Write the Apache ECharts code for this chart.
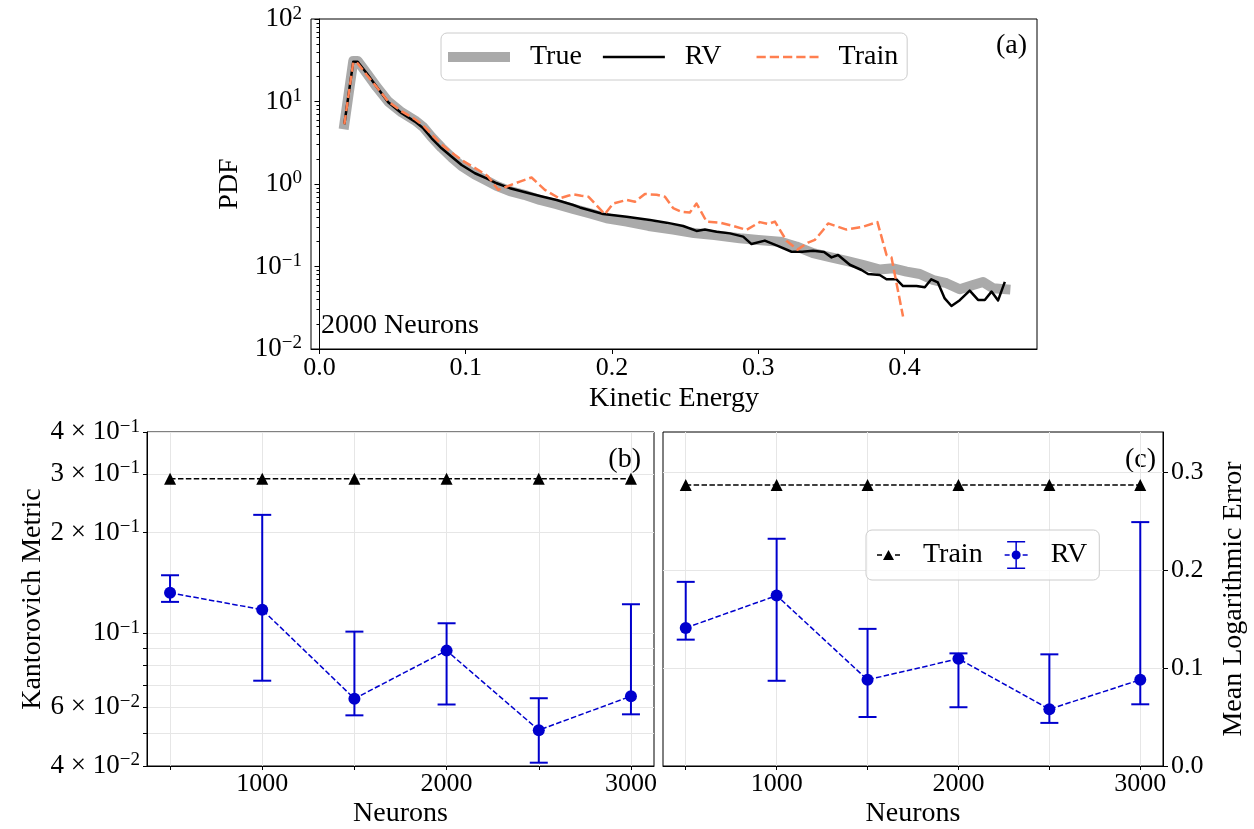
<!DOCTYPE html>
<html><head><meta charset="utf-8">
<script src="https://cdn.jsdelivr.net/npm/echarts@6/dist/echarts.min.js"></script>
<style>html,body{margin:0;padding:0;background:#fff}#c{width:1254px;height:829px}</style>
</head><body><div id="c"></div>
<script>
// ---------- Panel (a): PDF of kinetic energy ----------
const energyTrue = [0.0170,0.0231,0.0261,0.0323,0.0391,0.0470,0.0562,0.0653,0.0710,0.0767,0.0835,0.0904,0.0972,0.1063,0.1143,0.1211,0.1302,0.1400,0.1507,0.1621,0.1735,0.1850,0.1963,0.2100,0.2250,0.2418,0.2560,0.2700,0.2874,0.3000,0.3148,0.3260,0.3375,0.3490,0.3603,0.3720,0.3831,0.3922,0.4014,0.4105,0.4196,0.4287,0.4378,0.4469,0.4537,0.4606,0.4690];
const pdfTrue = [5.3,31,31,22,15,10,7.4,5.9,4.9,3.7,2.75,2.1,1.65,1.3,1.1,0.95,0.82,0.74,0.64,0.57,0.5,0.44,0.384,0.35,0.31,0.28,0.255,0.24,0.22,0.21,0.20,0.175,0.145,0.13,0.117,0.104,0.092,0.095,0.0865,0.081,0.0686,0.0627,0.053,0.0597,0.065,0.0544,0.053];

const energyRV = [0.0170,0.0231,0.0261,0.0323,0.0391,0.0470,0.0562,0.0653,0.0710,0.0767,0.0835,0.0904,0.0972,0.1063,0.1143,0.1211,0.1302,0.1400,0.1507,0.1621,0.1735,0.1780,0.1940,0.2100,0.2260,0.2373,0.2487,0.2578,0.2635,0.2715,0.2806,0.2897,0.2954,0.3045,0.3125,0.3228,0.3300,0.3375,0.3450,0.3501,0.3546,0.3626,0.3706,0.3751,0.3831,0.3877,0.3945,0.3990,0.4082,0.4139,0.4183,0.4228,0.4275,0.4321,0.4378,0.4446,0.4503,0.4549,0.4595,0.4640,0.4686];
const pdfRV = [5.3,30.4,30.4,22,15.1,9.8,7.2,5.7,4.73,3.58,2.71,2.14,1.70,1.35,1.17,1.02,0.89,0.80,0.716,0.64,0.556,0.52,0.433,0.40,0.366,0.34,0.31,0.27,0.28,0.264,0.252,0.23,0.187,0.206,0.18,0.151,0.151,0.155,0.15,0.129,0.138,0.105,0.0907,0.081,0.079,0.07,0.07,0.058,0.058,0.056,0.07,0.064,0.041,0.0332,0.039,0.051,0.0393,0.0393,0.0496,0.0388,0.065];

const energyTrain = [0.0170,0.0231,0.0261,0.0323,0.0391,0.0470,0.0562,0.0653,0.0710,0.0767,0.0835,0.0904,0.0972,0.1086,0.1150,0.1222,0.1370,0.1450,0.1541,0.1640,0.1700,0.1735,0.1790,0.1840,0.1951,0.2008,0.2100,0.2157,0.2225,0.2305,0.2362,0.2418,0.2476,0.2532,0.2578,0.2647,0.2738,0.2828,0.2920,0.3011,0.3068,0.3114,0.3193,0.3268,0.3341,0.3387,0.3444,0.3478,0.3603,0.3717,0.3815,0.3877,0.3911,0.3990];
const pdfTrain = [5.3,30,29,21,15,10,7.6,6.1,5.1,4.0,3.0,2.4,1.95,1.48,1.25,0.85,1.07,1.2,0.85,0.67,0.72,0.75,0.72,0.70,0.43,0.58,0.64,0.61,0.757,0.74,0.70,0.51,0.46,0.45,0.58,0.35,0.34,0.31,0.278,0.345,0.327,0.35,0.205,0.16,0.195,0.21,0.277,0.333,0.28,0.304,0.345,0.138,0.129,0.0247];

const energyTicks = [0, 0.1, 0.2, 0.3, 0.4];
const pdfTicks = [0.01, 0.1, 1, 10, 100];
const pdfMinorTicks = [0.02,0.03,0.04,0.05,0.06,0.07,0.08,0.09,0.2,0.3,0.4,0.5,0.6,0.7,0.8,0.9,2,3,4,5,6,7,8,9,20,30,40,50,60,70,80,90];

// ---------- Panels (b) and (c) ----------
const neurons = [500, 1000, 1500, 2000, 2500, 3000];
const neuronTicks = [500, 1000, 1500, 2000, 2500, 3000];
const neuronLabels = [1000, 2000, 3000];

const kmTrain = [0.29, 0.29, 0.29, 0.29, 0.29, 0.29];
const kmRV = [0.132, 0.1175, 0.0636, 0.0886, 0.0512, 0.0647];
const kmRVLow = [0.124, 0.072, 0.0567, 0.0611, 0.0409, 0.0571];
const kmRVHigh = [0.149, 0.226, 0.101, 0.107, 0.0638, 0.122];
const kmTicks = [0.04, 0.05, 0.06, 0.07, 0.08, 0.09, 0.1, 0.2, 0.3, 0.4];
const kmLabels = [0.04, 0.06, 0.1, 0.2, 0.3, 0.4];

const mleTrain = [0.287, 0.287, 0.287, 0.287, 0.287, 0.287];
const mleRV = [0.141, 0.174, 0.088, 0.1095, 0.058, 0.088];
const mleRVLow = [0.129, 0.087, 0.050, 0.060, 0.044, 0.063];
const mleRVHigh = [0.188, 0.232, 0.140, 0.115, 0.114, 0.249];
const mleTicks = [0, 0.1, 0.2, 0.3];

// ---------- helpers ----------
const FONT = '"Liberation Serif", "DejaVu Serif", serif';
const FS = 26;   // tick labels
const FN = 28;   // titles, legend, annotations
const BLUE = '#0000cd';
const GRIDC = '#e6e6e6';
const sup = e => (e < 0 ? '\u2212' : '') + Math.abs(e);
function sciLabel(v) {
  const e = Math.floor(Math.log10(v) + 1e-9);
  const m = Math.round(v / Math.pow(10, e));
  return (m === 1 ? '{b|10}' : '{b|' + m + ' \u00d7 10}') + '{s|' + sup(e) + '}';
}
const richSup = {
  b: { fontFamily: FONT, fontSize: 27, color: '#000', lineHeight: 30 },
  s: { fontFamily: FONT, fontSize: 19, color: '#000', lineHeight: 16, verticalAlign: 'top' }
};
const pairs = (xs, ys) => xs.map((x, i) => [x, ys[i]]);
const rows3 = (xs, a, b) => xs.map((x, i) => [x, a[i], b[i]]);

function errRender(params, api) {
  const x = api.value(0), lo = api.value(1), hi = api.value(2);
  const pLo = api.coord([x, lo]), pHi = api.coord([x, hi]);
  const cw = 9;
  const st = () => ({ stroke: BLUE, lineWidth: 2, fill: null });
  return { type: 'group', children: [
    { type: 'line', shape: { x1: pLo[0], y1: pLo[1], x2: pHi[0], y2: pHi[1] }, style: st() },
    { type: 'line', shape: { x1: pLo[0] - cw, y1: pLo[1], x2: pLo[0] + cw, y2: pLo[1] }, style: st() },
    { type: 'line', shape: { x1: pHi[0] - cw, y1: pHi[1], x2: pHi[0] + cw, y2: pHi[1] }, style: st() }
  ]};
}

const axisLineBlack = { show: true, lineStyle: { color: '#000', width: 1 } };
const tickStyle = (vals, len) => ({ show: true, customValues: vals, length: len, lineStyle: { color: '#000', width: 1 } });
const nameStyle = { fontFamily: FONT, fontSize: FN, color: '#000' };
const labelBase = { fontFamily: FONT, fontSize: FS, color: '#000' };

// legend icons (a): 62 x 14 boxes
const cornerA = 'M0 0h0.01v0.01h-0.01z M61.99 13.99h0.01v0.01h-0.01z ';
const iconTrue = 'path://' + cornerA + 'M0 2h62v10h-62z';
const iconRV = 'path://' + cornerA + 'M0 5.75h62v2.5h-62z';
const iconTrain = 'path://' + cornerA + 'M0 5.75h9.25v2.5h-9.25z M13.25 5.75h9.25v2.5h-9.25z M26.5 5.75h9.25v2.5h-9.25z M39.75 5.75h9.25v2.5h-9.25z M53 5.75h9v2.5h-9z';
// legend icons (c): 23 x 30 boxes
const cornerC = 'M0 0h0.01v0.01h-0.01z M22.99 29.99h0.01v0.01h-0.01z ';
const iconTrainC = 'path://' + cornerC + 'M0 14.25h5v1.5h-5z M18 14.25h5v1.5h-5z M11.5 10 L17 20 L6 20 z';
const iconRVC = 'path://' + cornerC + 'M10.75 1h1.5v28h-1.5z M2.5 1h18v1.5h-18z M2.5 27.5h18v1.5h-18z M0 14.25h5v1.5h-5z M18 14.25h5v1.5h-5z M7 15 a4.5 4.5 0 1 1 9 0 a4.5 4.5 0 1 1 -9 0 z';

const option = {
  animation: false,
  backgroundColor: '#ffffff',
  textStyle: { fontFamily: FONT },
  grid: [
    { left: 311, top: 19, width: 726, height: 330, show: true, borderColor: '#000', borderWidth: 1 },
    { left: 147, top: 432, width: 507, height: 335, show: true, borderColor: '#000', borderWidth: 1 },
    { left: 663, top: 432, width: 500, height: 335, show: true, borderColor: '#000', borderWidth: 1 },
    { left: 311, top: 19, width: 726, height: 330, show: false }   // overlay grid for the PDF minor ticks
  ],
  xAxis: [
    { gridIndex: 0, type: 'value', min: -0.0058, max: 0.4906,
      axisLine: axisLineBlack, axisTick: tickStyle(energyTicks, 5),
      axisLabel: Object.assign({ customValues: energyTicks, margin: 6, formatter: v => v.toFixed(1) }, labelBase),
      splitLine: { show: false },
      name: 'Kinetic Energy', nameLocation: 'middle', nameGap: 36, nameTextStyle: nameStyle },
    { gridIndex: 1, type: 'value', min: 375, max: 3125,
      axisLine: axisLineBlack, axisTick: tickStyle(neuronTicks, 4),
      axisLabel: Object.assign({ customValues: neuronLabels, margin: 5, formatter: v => String(v) }, labelBase),
      splitLine: { show: true, lineStyle: { color: GRIDC, width: 1 } },
      name: 'Neurons', nameLocation: 'middle', nameGap: 34, nameTextStyle: nameStyle },
    { gridIndex: 2, type: 'value', min: 375, max: 3125,
      axisLine: axisLineBlack, axisTick: tickStyle(neuronTicks, 4),
      axisLabel: Object.assign({ customValues: neuronLabels, margin: 5, formatter: v => String(v) }, labelBase),
      splitLine: { show: true, lineStyle: { color: GRIDC, width: 1 } },
      name: 'Neurons', nameLocation: 'middle', nameGap: 34, nameTextStyle: nameStyle },
    { gridIndex: 3, type: 'value', min: -0.0058, max: 0.4906, show: false }
  ],
  yAxis: [
    { gridIndex: 0, type: 'log', logBase: 10, min: 0.009995, max: 100.05, position: 'left',
      axisLine: axisLineBlack, axisTick: tickStyle(pdfTicks, 5),
      axisLabel: { customValues: pdfTicks, margin: 9, formatter: sciLabel, rich: richSup },
      splitLine: { show: false },
      name: 'PDF', nameLocation: 'middle', nameGap: 62, nameRotate: 90, nameTextStyle: nameStyle },
    { gridIndex: 3, type: 'log', logBase: 10, min: 0.009995, max: 100.05, position: 'left',
      axisLine: { show: false }, axisTick: tickStyle(pdfMinorTicks, 3),
      axisLabel: { show: false }, splitLine: { show: false } },
    { gridIndex: 1, type: 'log', logBase: 10, min: 0.03998, max: 0.4002,
      axisLine: axisLineBlack, axisTick: tickStyle(kmTicks, 4),
      axisLabel: { customValues: kmLabels, margin: 7, formatter: sciLabel, rich: richSup },
      splitLine: { show: true, lineStyle: { color: GRIDC, width: 1 } },
      name: 'Kantorovich Metric', nameLocation: 'middle', nameGap: 100, nameRotate: 90, nameTextStyle: nameStyle },
    { gridIndex: 2, type: 'value', position: 'right', min: 0, max: 0.341,
      axisLine: axisLineBlack, axisTick: tickStyle(mleTicks, 5),
      axisLabel: Object.assign({ customValues: mleTicks, margin: 8, formatter: v => v.toFixed(1) }, labelBase),
      splitLine: { show: true, lineStyle: { color: GRIDC, width: 1 } },
      name: 'Mean Logarithmic Error', nameLocation: 'middle', nameGap: 57, nameRotate: 90, nameTextStyle: nameStyle }
  ],
  legend: [
    { left: 441, top: 33, orient: 'horizontal', selectedMode: false,
      data: [
        { name: 'True', icon: iconTrue, itemStyle: { color: '#aaaaaa', borderWidth: 0 } },
        { name: 'RV', icon: iconRV, itemStyle: { color: '#000', borderWidth: 0 } },
        { name: 'Train', icon: iconTrain, itemStyle: { color: '#ff7f50', borderWidth: 0 } }
      ],
      itemWidth: 62, itemHeight: 14, itemGap: 21,
      padding: [10, 9, 9, 7],
      backgroundColor: 'rgba(255,255,255,0.8)', borderColor: '#cccccc', borderWidth: 1, borderRadius: 6,
      formatter: n => ({ True: '{t|True}', RV: '{t|RV\u2002}', Train: '{t|Train}' })[n],
      textStyle: { fontFamily: FONT, fontSize: FN, color: '#000',
        rich: { t: { fontFamily: FONT, fontSize: FN, color: '#000', padding: [0, 0, 0, 15] } } } },
    { left: 866, top: 530, orient: 'horizontal', selectedMode: false,
      data: [
        { name: 'Train_c', icon: iconTrainC, itemStyle: { color: '#000', borderWidth: 0 } },
        { name: 'RV_c', icon: iconRVC, itemStyle: { color: BLUE, borderWidth: 0 } }
      ],
      itemWidth: 23, itemHeight: 30, itemGap: 22,
      padding: [10, 12, 10, 11],
      backgroundColor: 'rgba(255,255,255,0.8)', borderColor: '#cccccc', borderWidth: 1, borderRadius: 6,
      formatter: n => '{u|' + n.replace('_c', '') + '}',
      textStyle: { fontFamily: FONT, fontSize: FN, color: '#000',
        rich: { u: { fontFamily: FONT, fontSize: FN, color: '#000', padding: [0, 0, 0, 18] } } } }
  ],
  graphic: [
    { type: 'text', x: 1027, y: 46, style: { text: '(a)', font: FN + 'px ' + FONT, fill: '#000', align: 'right', verticalAlign: 'middle' } },
    { type: 'text', x: 321, y: 326, style: { text: '2000 Neurons', font: FN + 'px ' + FONT, fill: '#000', align: 'left', verticalAlign: 'middle' } },
    { type: 'text', x: 641, y: 460, style: { text: '(b)', font: FN + 'px ' + FONT, fill: '#000', align: 'right', verticalAlign: 'middle' } },
    { type: 'text', x: 1156, y: 460, style: { text: '(c)', font: FN + 'px ' + FONT, fill: '#000', align: 'right', verticalAlign: 'middle' } }
  ],
  series: [
    { name: 'True', type: 'line', xAxisIndex: 0, yAxisIndex: 0, data: pairs(energyTrue, pdfTrue), symbol: 'none',
      itemStyle: { color: '#aaaaaa' }, lineStyle: { color: '#aaaaaa', width: 10, cap: 'square', join: 'round' }, z: 2 },
    { name: 'RV', type: 'line', xAxisIndex: 0, yAxisIndex: 0, data: pairs(energyRV, pdfRV), symbol: 'none',
      itemStyle: { color: '#000' }, lineStyle: { color: '#000', width: 2.5, join: 'round' }, z: 3 },
    { name: 'Train', type: 'line', xAxisIndex: 0, yAxisIndex: 0, data: pairs(energyTrain, pdfTrain), symbol: 'none',
      itemStyle: { color: '#ff7f50' }, lineStyle: { color: '#ff7f50', width: 2.5, type: [9.25, 4], join: 'round' }, z: 4 },

    { name: 'Train_b', type: 'line', xAxisIndex: 1, yAxisIndex: 2, data: pairs(neurons, kmTrain),
      symbol: 'triangle', symbolSize: 12, itemStyle: { color: '#000' },
      lineStyle: { color: '#000', width: 1.5, type: [5.5, 2.4] }, z: 4 },
    { name: 'RVerr_b', type: 'custom', xAxisIndex: 1, yAxisIndex: 2, data: rows3(neurons, kmRVLow, kmRVHigh),
      encode: { x: 0, y: [1, 2] }, renderItem: errRender, clip: false, z: 3 },
    { name: 'RV_b', type: 'line', xAxisIndex: 1, yAxisIndex: 2, data: pairs(neurons, kmRV),
      symbol: 'circle', symbolSize: 12, itemStyle: { color: BLUE },
      lineStyle: { color: BLUE, width: 1.5, type: [5.5, 2.4] }, z: 5 },

    { name: 'Train_c', type: 'line', xAxisIndex: 2, yAxisIndex: 3, data: pairs(neurons, mleTrain),
      symbol: 'triangle', symbolSize: 12, itemStyle: { color: '#000' },
      lineStyle: { color: '#000', width: 1.5, type: [5.5, 2.4] }, z: 4 },
    { name: 'RVerr_c', type: 'custom', xAxisIndex: 2, yAxisIndex: 3, data: rows3(neurons, mleRVLow, mleRVHigh),
      encode: { x: 0, y: [1, 2] }, renderItem: errRender, clip: false, z: 3 },
    { name: 'RV_c', type: 'line', xAxisIndex: 2, yAxisIndex: 3, data: pairs(neurons, mleRV),
      symbol: 'circle', symbolSize: 12, itemStyle: { color: BLUE },
      lineStyle: { color: BLUE, width: 1.5, type: [5.5, 2.4] }, z: 5 }
  ]
};
const chart = echarts.init(document.getElementById('c'), null, { renderer: 'canvas' });
chart.setOption(option);
</script></body></html>
